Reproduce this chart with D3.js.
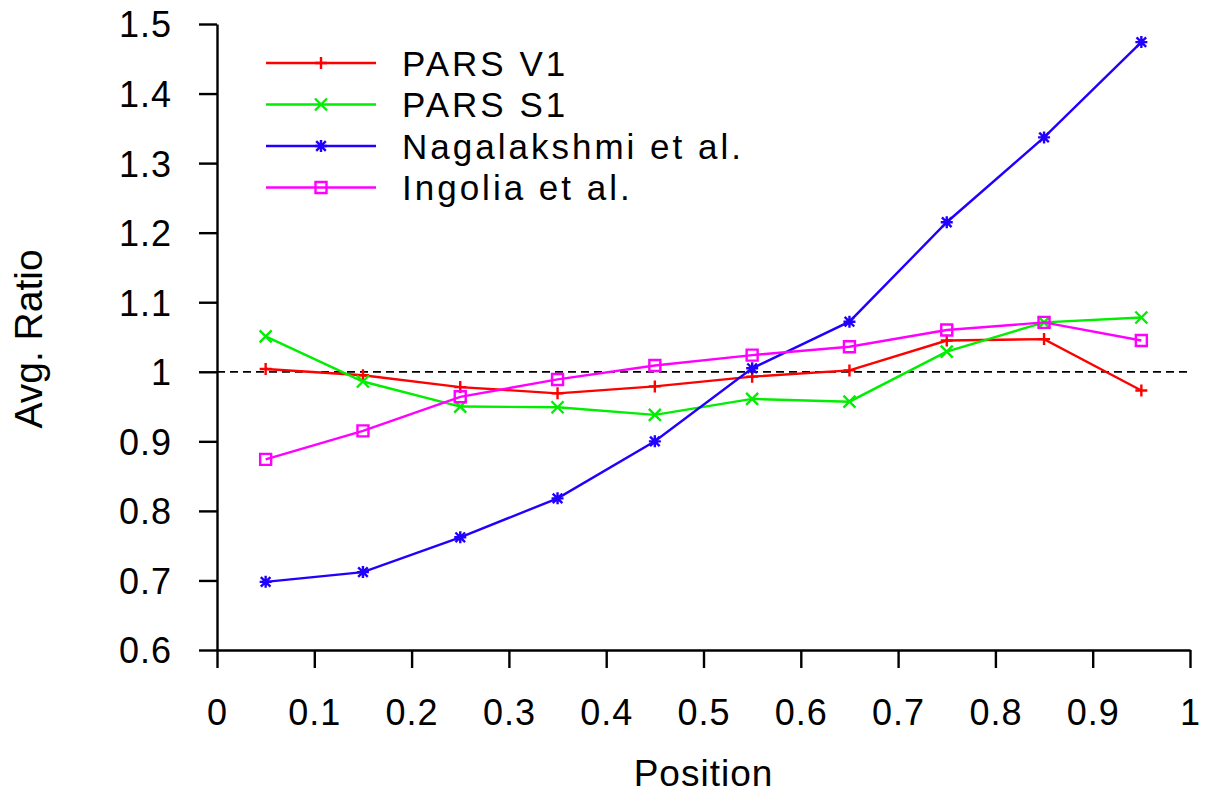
<!DOCTYPE html>
<html>
<head>
<meta charset="utf-8">
<script src="https://cdn.jsdelivr.net/npm/d3@7"></script>
<style>
  body { margin: 0; background: #fff; }
  text { font-family: "Liberation Sans", Arial, sans-serif; fill: #000; }
</style>
</head>
<body>
<svg id="chart"></svg>
<script>
const positions = [0.05, 0.15, 0.25, 0.35, 0.45, 0.55, 0.65, 0.75, 0.85, 0.95]
const parsV1 = [1.004, 0.995, 0.978, 0.969, 0.979, 0.993, 1.002, 1.045, 1.047, 0.973]
const parsS1 = [1.051, 0.986, 0.950, 0.949, 0.938, 0.961, 0.957, 1.029, 1.071, 1.078]
const nagalakshmi = [0.698, 0.712, 0.762, 0.818, 0.900, 1.005, 1.072, 1.215, 1.337, 1.474]
const ingolia = [0.874, 0.915, 0.964, 0.989, 1.009, 1.024, 1.036, 1.060, 1.071, 1.045]
const seriesNames = ["PARS V1", "PARS S1", "Nagalakshmi et al.", "Ingolia et al."]
const xTicks = [0, 0.1, 0.2, 0.3, 0.4, 0.5, 0.6, 0.7, 0.8, 0.9, 1]
const yTicks = [0.6, 0.7, 0.8, 0.9, 1, 1.1, 1.2, 1.3, 1.4, 1.5]

const width = 1205
const height = 793
const margin = { left: 217, right: 15, top: 24, bottom: 143 }

const svg = d3.select("#chart").attr("width", width).attr("height", height)

const x = d3.scaleLinear().domain([0, 1]).range([margin.left, width - margin.right])
const y = d3.scaleLinear().domain([0.6, 1.5]).range([height - margin.bottom, margin.top])

const series = [
  { name: seriesNames[0], values: parsV1, color: "#ff0000", marker: "plus" },
  { name: seriesNames[1], values: parsS1, color: "#00ee00", marker: "cross" },
  { name: seriesNames[2], values: nagalakshmi, color: "#2200ff", marker: "star" },
  { name: seriesNames[3], values: ingolia, color: "#ff00ff", marker: "square" },
]

const fmt = (d) => (d === 0 || d === 1 ? String(d) : d3.format(".1f")(d))

// axes
const xAxis = svg
  .append("g")
  .attr("transform", "translate(0," + y(0.6) + ")")
  .call(d3.axisBottom(x).tickValues(xTicks).tickFormat(fmt).tickSize(18).tickSizeOuter(0))
xAxis.select(".domain").attr("stroke-width", 2.4)
xAxis.selectAll(".tick line").attr("stroke-width", 2.4)
xAxis.selectAll("text").attr("font-size", 36).attr("y", 75).attr("dy", 0).attr("letter-spacing", 1)

const yAxis = svg
  .append("g")
  .attr("transform", "translate(" + x(0) + ",0)")
  .call(d3.axisLeft(y).tickValues(yTicks).tickFormat(fmt).tickSize(18).tickSizeOuter(0))
yAxis.select(".domain").attr("stroke-width", 2.4)
yAxis.selectAll(".tick line").attr("stroke-width", 2.4)
yAxis.selectAll("text").attr("font-size", 36).attr("x", -45).attr("dy", "0.36em").attr("letter-spacing", 1)
svg.selectAll(".tick text").attr("fill", "#000").attr("font-family", "Liberation Sans, Arial, sans-serif")

// axis titles
svg
  .append("text")
  .attr("x", x(0.5))
  .attr("y", 786)
  .attr("text-anchor", "middle")
  .attr("font-size", 37)
  .attr("letter-spacing", 1)
  .text("Position")

svg
  .append("text")
  .attr("transform", "translate(42,339) rotate(-90)")
  .attr("text-anchor", "middle")
  .attr("font-size", 39)
  .text("Avg. Ratio")

// reference line at 1
svg
  .append("line")
  .attr("x1", x(0))
  .attr("x2", x(1))
  .attr("y1", y(1))
  .attr("y2", y(1))
  .attr("stroke", "#000")
  .attr("stroke-width", 1.8)
  .attr("stroke-dasharray", "8,5")

const markerPath = (type, s) => {
  if (type === "plus") return `M${-s},0H${s}M0,${-s}V${s}`
  if (type === "cross") return `M${-s},${-s}L${s},${s}M${-s},${s}L${s},${-s}`
  if (type === "star")
    return `M${-s},0H${s}M0,${-s}V${s}M${-s * 0.8},${-s * 0.8}L${s * 0.8},${s * 0.8}M${-s * 0.8},${s * 0.8}L${s * 0.8},${-s * 0.8}`
  return `M${-s},${-s}H${s}V${s}H${-s}Z`
}

const line = d3
  .line()
  .x((d, i) => x(positions[i]))
  .y((d) => y(d))

series.forEach((s) => {
  const g = svg.append("g")
  g.append("path")
    .attr("d", line(s.values))
    .attr("fill", "none")
    .attr("stroke", s.color)
    .attr("stroke-width", 2.4)
  g.selectAll("path.mark")
    .data(s.values)
    .enter()
    .append("path")
    .attr("class", "mark")
    .attr("transform", (d, i) => "translate(" + x(positions[i]) + "," + y(d) + ")")
    .attr("d", markerPath(s.marker, s.marker === "square" ? 5.5 : 6))
    .attr("fill", "none")
    .attr("stroke", s.color)
    .attr("stroke-width", 2.4)
})

// legend
const legend = svg.append("g")
series.forEach((s, i) => {
  const ly = 63 + i * 41.5
  legend
    .append("line")
    .attr("x1", 266)
    .attr("x2", 376)
    .attr("y1", ly)
    .attr("y2", ly)
    .attr("stroke", s.color)
    .attr("stroke-width", 2.4)
  legend
    .append("path")
    .attr("transform", "translate(321," + ly + ")")
    .attr("d", markerPath(s.marker, s.marker === "square" ? 5.5 : 6))
    .attr("fill", "none")
    .attr("stroke", s.color)
    .attr("stroke-width", 2.4)
  legend
    .append("text")
    .attr("x", 402)
    .attr("y", ly)
    .attr("dy", "0.36em")
    .attr("font-size", 35)
    .attr("letter-spacing", 3)
    .text(s.name)
})
</script>
</body>
</html>
